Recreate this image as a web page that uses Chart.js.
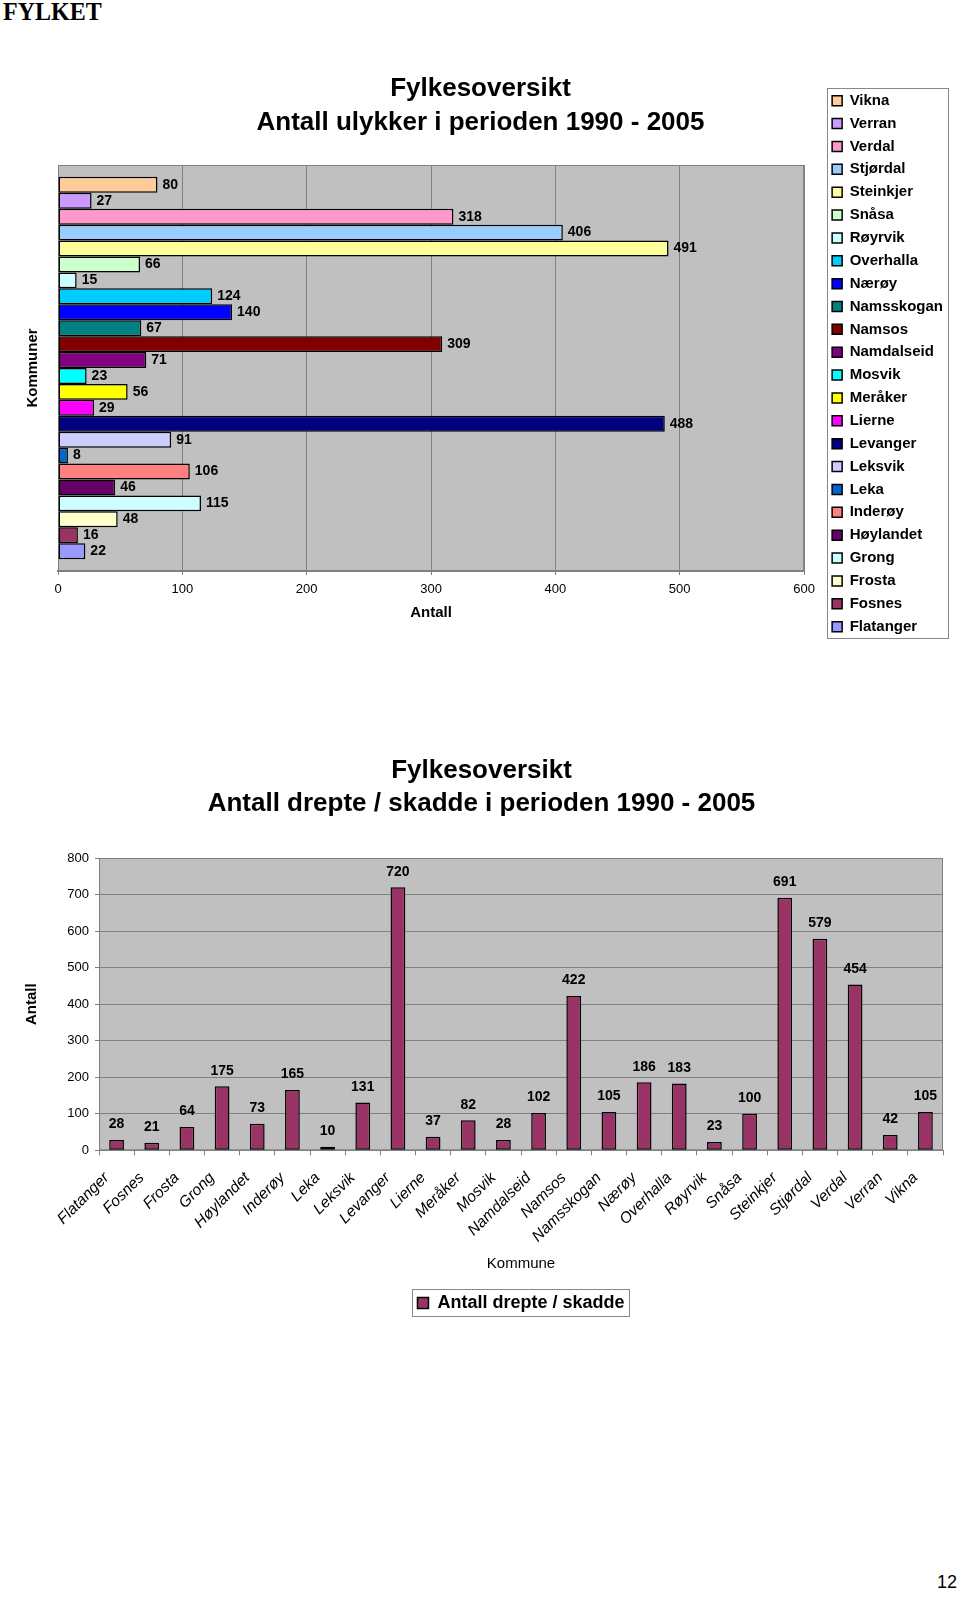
<!DOCTYPE html>
<html>
<head>
<meta charset="utf-8">
<script src="https://cdn.jsdelivr.net/npm/chart.js@4.4.1/dist/chart.umd.min.js"></script>
<style>
html,body{margin:0;padding:0;background:#fff;}
body{width:960px;height:1597px;overflow:hidden;position:relative;font-family:'Liberation Sans',Arial,sans-serif;}
#pageTitle{position:absolute;left:3px;top:-2px;line-height:23px;font:bold 24px 'Liberation Serif','Times New Roman',serif;color:#000;transform:scale(1,1.06);transform-origin:0 0;}
#pageNum{position:absolute;left:937px;top:1572px;line-height:20px;font:18px 'Liberation Sans',Arial,sans-serif;color:#000;}
canvas{position:absolute;left:0;display:block;}
#c1{top:0;width:960px;height:680px;}
#c2{top:690px;width:960px;height:680px;}
</style>
</head>
<body>
<div id="pageTitle">FYLKET</div>
<canvas id="c1" width="960" height="680"></canvas>
<canvas id="c2" width="960" height="680"></canvas>
<div id="pageNum">12</div>
<script>
// ---------- Data: chart 1 (Antall ulykker) ----------
const kommuner = ['Vikna','Verran','Verdal','Stjørdal','Steinkjer','Snåsa','Røyrvik','Overhalla','Nærøy','Namsskogan','Namsos','Namdalseid','Mosvik','Meråker','Lierne','Levanger','Leksvik','Leka','Inderøy','Høylandet','Grong','Frosta','Fosnes','Flatanger'];
const ulykker = [80,27,318,406,491,66,15,124,140,67,309,71,23,56,29,488,91,8,106,46,115,48,16,22];
const kommuneFarger = ['#FFCC99','#CC99FF','#FF99CC','#99CCFF','#FFFF99','#CCFFCC','#CCFFFF','#00CCFF','#0000FF','#008080','#800000','#800080','#00FFFF','#FFFF00','#FF00FF','#000080','#CCCCFF','#0066CC','#FF8080','#660066','#CCFFFF','#FFFFCC','#993366','#9999FF'];
const ulykkeTicks = [0,100,200,300,400,500,600];

// ---------- Data: chart 2 (Antall drepte / skadde) ----------
const kommunerAlfa = ['Flatanger','Fosnes','Frosta','Grong','Høylandet','Inderøy','Leka','Leksvik','Levanger','Lierne','Meråker','Mosvik','Namdalseid','Namsos','Namsskogan','Nærøy','Overhalla','Røyrvik','Snåsa','Steinkjer','Stjørdal','Verdal','Verran','Vikna'];
const drepteSkadde = [28,21,64,175,73,165,10,131,720,37,82,28,102,422,105,186,183,23,100,691,579,454,42,105];
const skadeTicks = [0,100,200,300,400,500,600,700,800];

const F = "'Liberation Sans', Arial, sans-serif";
Chart.defaults.font.family = F;
Chart.defaults.color = '#000';

const plotBg = {
  id: 'plotBg',
  beforeDraw(chart) {
    const {ctx, chartArea: a} = chart;
    ctx.save();
    ctx.fillStyle = '#C0C0C0';
    ctx.fillRect(a.left, a.top, a.width, a.height);
    ctx.strokeStyle = '#808080';
    ctx.lineWidth = 1;
    ctx.strokeRect(a.left + 0.5, a.top + 0.5, a.width - 1, a.height - 1);
    ctx.restore();
  }
};

const verdiEtiketter = {
  id: 'verdiEtiketter',
  afterDatasetsDraw(chart, args, opts) {
    const ctx = chart.ctx;
    ctx.save();
    ctx.font = 'bold 14px ' + F;
    ctx.fillStyle = '#000';
    chart.data.datasets.forEach((ds, di) => {
      const meta = chart.getDatasetMeta(di);
      meta.data.forEach((el, i) => {
        const v = ds.data[i];
        if (opts.horizontal) {
          ctx.textAlign = 'left'; ctx.textBaseline = 'middle';
          ctx.fillText(String(v), el.x + 5, el.y);
        } else {
          ctx.textAlign = 'center'; ctx.textBaseline = 'middle';
          ctx.fillText(String(v), el.x, el.y - 15.5);
        }
      });
    });
    ctx.restore();
  }
};

const legendRamme = {
  id: 'legendRamme',
  afterDraw(chart) {
    const hb = chart.legend && chart.legend.legendHitBoxes;
    if (!hb || !hb.length) return;
    let l = Infinity, t = Infinity, r = -Infinity, b = -Infinity;
    hb.forEach(h => {
      l = Math.min(l, h.left); t = Math.min(t, h.top);
      r = Math.max(r, h.left + h.width); b = Math.max(b, h.top + h.height);
    });
    const ctx = chart.ctx;
    ctx.save();
    ctx.strokeStyle = '#888888';
    ctx.lineWidth = 1;
    ctx.strokeRect(Math.round(l - 5) + 0.5, Math.round(t - 5) + 0.5, Math.round(r - l + 10), Math.round(b - t + 9));
    ctx.restore();
  }
};

// ---------- Chart 1 ----------
new Chart(document.getElementById('c1'), {
  type: 'bar',
  data: {
    labels: [''],
    datasets: kommuner.map((k, i) => ({
      label: k,
      data: [ulykker[i]],
      backgroundColor: kommuneFarger[i],
      borderColor: '#000000',
      borderWidth: 1.5,
      borderSkipped: false,
      xAxisID: 'x',
      yAxisID: 'y'
    }))
  },
  plugins: [plotBg, verdiEtiketter, legendRamme],
  options: {
    indexAxis: 'y',
    responsive: false,
    animation: false,
    events: [],
    layout: { padding: { top: 50, left: 8, right: 7, bottom: 18 } },
    datasets: { bar: { categoryPercentage: 0.9417, barPercentage: 1 } },
    plugins: {
      verdiEtiketter: { horizontal: true },
      tooltip: { enabled: false },
      title: {
        display: true,
        text: ['Fylkesoversikt', 'Antall ulykker i perioden 1990 - 2005'],
        color: '#000',
        font: { family: F, size: 26, weight: 'bold', lineHeight: 1.3 },
        padding: { top: 22.1, bottom: 25.3 }
      },
      legend: {
        position: 'right',
        align: 'start',
        title: { display: true, text: '', font: { size: 12 }, padding: { top: 0, bottom: 20.9 } },
        labels: {
          boxWidth: 10, boxHeight: 10, padding: 7.87, color: '#000',
          font: { family: F, size: 15, weight: 'bold' }
        }
      }
    },
    scales: {
      x: {
        type: 'linear',
        min: ulykkeTicks[0],
        max: ulykkeTicks[ulykkeTicks.length - 1],
        ticks: { stepSize: ulykkeTicks[1] - ulykkeTicks[0], color: '#000', font: { family: F, size: 13 }, padding: 7 },
        grid: { color: '#808080', tickLength: 4, drawTicks: true },
        border: { display: true, color: '#808080', width: 2 },
        title: { display: true, text: 'Antall', color: '#000', font: { family: F, size: 15, weight: 'bold' }, padding: { top: 5, bottom: 40 } },
        afterFit: s => { s.height = 91; }
      },
      y: {
        type: 'category',
        ticks: { display: false },
        grid: { display: false, drawTicks: false },
        border: { display: false },
        title: { display: true, text: 'Kommuner', color: '#000', font: { family: F, size: 15, weight: 'bold' }, padding: { top: 15.5, bottom: 16.5 } },
        afterFit: s => { s.width = 50; }
      },
      gap: {
        type: 'linear',
        position: 'right',
        display: true,
        ticks: { display: false },
        grid: { display: false, drawTicks: false },
        border: { display: false },
        afterFit: s => { s.width = 20.2; }
      }
    }
  }
});

// ---------- Chart 2 ----------
new Chart(document.getElementById('c2'), {
  type: 'bar',
  data: {
    labels: kommunerAlfa,
    datasets: [{
      label: 'Antall drepte / skadde',
      data: drepteSkadde,
      backgroundColor: '#993366',
      borderColor: '#000000',
      borderWidth: 1.5,
      borderSkipped: false
    }]
  },
  plugins: [plotBg, verdiEtiketter, legendRamme],
  options: {
    responsive: false,
    animation: false,
    events: [],
    layout: { padding: { top: 40, left: 20, right: 17, bottom: 47.9 } },
    datasets: { bar: { categoryPercentage: 1, barPercentage: 0.42 } },
    plugins: {
      verdiEtiketter: { horizontal: false },
      tooltip: { enabled: false },
      title: {
        display: true,
        text: ['Fylkesoversikt', 'Antall drepte / skadde i perioden 1990 - 2005'],
        color: '#000',
        font: { family: F, size: 26, weight: 'bold', lineHeight: 1.3 },
        padding: { top: 23.6, bottom: 36.8 }
      },
      legend: {
        position: 'bottom',
        fullSize: false,
        labels: {
          boxWidth: 11, boxHeight: 11, padding: 11, color: '#000',
          font: { family: F, size: 18, weight: 'bold' }
        }
      }
    },
    scales: {
      x: {
        type: 'category',
        ticks: { autoSkip: false, minRotation: 45, maxRotation: 45, color: '#000', font: { family: F, size: 15.5, style: 'italic' }, padding: 13.5, labelOffset: -10 },
        grid: { drawOnChartArea: false, drawTicks: true, tickLength: 5, color: '#808080', offset: true },
        border: { display: true, color: '#808080' },
        title: { display: true, text: 'Kommune', color: '#000', font: { family: F, size: 15 }, padding: { top: 10, bottom: 10.1 } },
        afterFit: s => { s.height = 132.8; }
      },
      y: {
        type: 'linear',
        min: skadeTicks[0],
        max: skadeTicks[skadeTicks.length - 1],
        ticks: { stepSize: skadeTicks[1] - skadeTicks[0], color: '#000', font: { family: F, size: 13 }, padding: 6 },
        grid: { color: '#808080', tickLength: 4, drawTicks: true },
        border: { display: true, color: '#808080' },
        title: { display: true, text: 'Antall', color: '#000', font: { family: F, size: 15, weight: 'bold' }, padding: { top: 3, bottom: 0 } },
        afterFit: s => { s.width = 79; }
      }
    }
  }
});
</script>
</body>
</html>
